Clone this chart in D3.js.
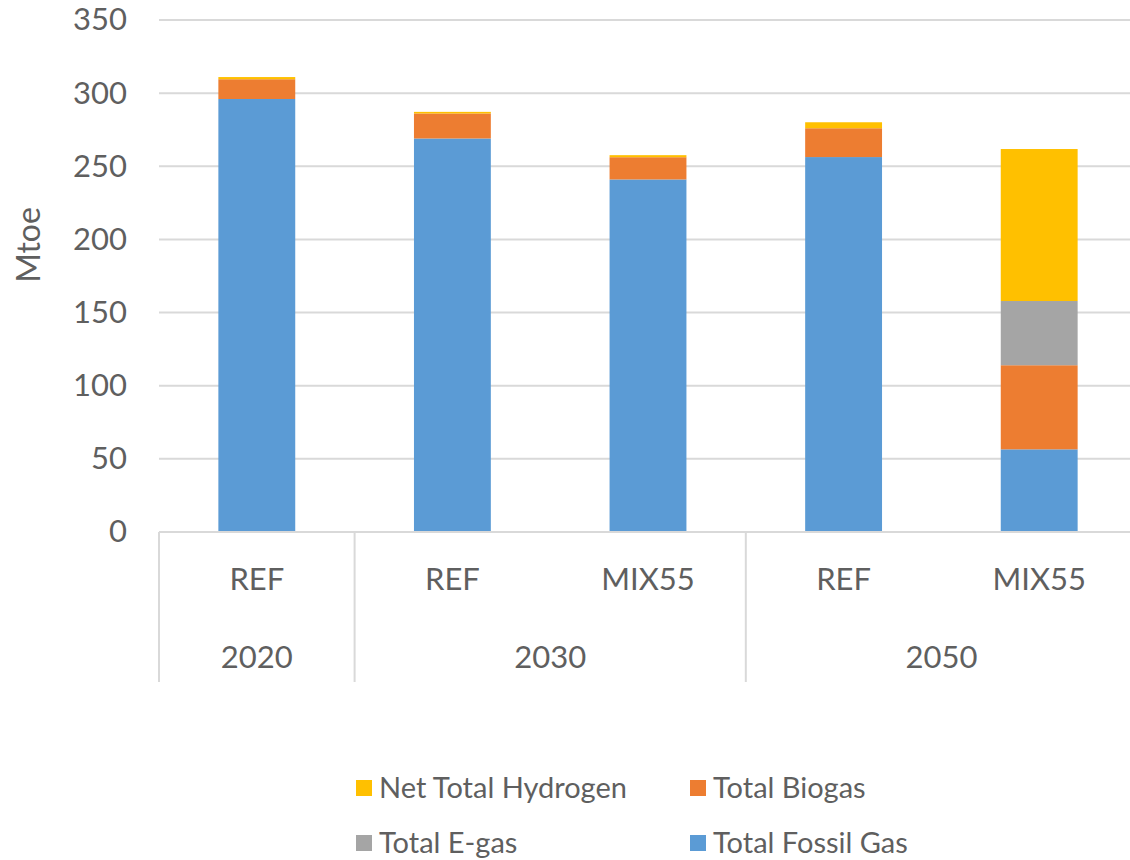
<!DOCTYPE html>
<html>
<head>
<meta charset="utf-8">
<script src="https://cdn.jsdelivr.net/npm/d3@7/dist/d3.min.js"></script>
<style>
  html, body { margin: 0; padding: 0; background: #fff; }
  svg { display: block; font-family: Lato, "Open Sans", sans-serif; }
</style>
</head>
<body>
<svg id="chart" width="1130" height="860"></svg>
<script>
// Scenario bars, grouped by year
const scenarios = ["REF", "REF", "MIX55", "REF", "MIX55"];
const years = ["2020", "2030", "2030", "2050", "2050"];
const yearGroups = [
  { year: "2020", span: 1 },
  { year: "2030", span: 2 },
  { year: "2050", span: 2 }
];

// Gas supply, Mtoe
const fossilGas = [296, 269, 241, 256.3, 56.5];
const biogas = [13.5, 17.1, 15.2, 19.7, 57.5];
const eGas = [0, 0, 0, 0, 43.9];
const hydrogen = [1.5, 1.1, 1.4, 4.1, 103.9];

const seriesNames = ["Total Fossil Gas", "Total Biogas", "Total E-gas", "Net Total Hydrogen"];
const seriesColors = ["#5B9BD5", "#ED7D31", "#A5A5A5", "#FFC000"];
const yTicks = [0, 50, 100, 150, 200, 250, 300, 350];

const rows = scenarios.map((s, i) => ({
  key: i,
  "Total Fossil Gas": fossilGas[i],
  "Total Biogas": biogas[i],
  "Total E-gas": eGas[i],
  "Net Total Hydrogen": hydrogen[i]
}));

const svg = d3.select("#chart");
const plotLeft = 159, plotRight = 1137, plotTop = 20, plotBottom = 532;
const textColor = "#5f5f5f";

const x = d3.scaleBand().domain(d3.range(scenarios.length)).range([plotLeft, plotRight]).paddingInner(0.607).paddingOuter(0.3035);
const step = x.step();
const y = d3.scaleLinear().domain([0, 350]).range([plotBottom, plotTop]);
const color = d3.scaleOrdinal().domain(seriesNames).range(seriesColors);

// Gridlines
svg.append("g")
  .selectAll("line")
  .data(yTicks.filter(d => d > 0))
  .join("line")
  .attr("x1", plotLeft).attr("x2", 1130)
  .attr("y1", d => y(d)).attr("y2", d => y(d))
  .attr("stroke", "#d9d9d9").attr("stroke-width", 2);

// Y axis labels
const yAxis = d3.axisLeft(y).tickValues(yTicks).tickSize(0).tickPadding(32);
const yg = svg.append("g").attr("transform", `translate(${plotLeft},0)`).call(yAxis);
yg.select(".domain").remove();
yg.selectAll("text")
  .attr("font-size", 31).attr("fill", textColor)
  .attr("font-family", "Lato, 'Open Sans', sans-serif");

svg.append("text")
  .attr("transform", `translate(40,245) rotate(-90)`)
  .attr("text-anchor", "middle")
  .attr("font-size", 32).attr("fill", textColor)
  .text("Mtoe");

// Stacked bars
const stack = d3.stack().keys(seriesNames);
const layers = stack(rows);
svg.append("g")
  .selectAll("g")
  .data(layers)
  .join("g")
  .attr("fill", d => color(d.key))
  .selectAll("rect")
  .data(d => d)
  .join("rect")
  .attr("x", (d, i) => x(i))
  .attr("width", x.bandwidth())
  .attr("y", d => y(d[1]))
  .attr("height", d => y(d[0]) - y(d[1]));

// Baseline
svg.append("line")
  .attr("x1", plotLeft).attr("x2", 1130)
  .attr("y1", y(0)).attr("y2", y(0))
  .attr("stroke", "#d9d9d9").attr("stroke-width", 2);

// Category axis: scenario row and year row
const xAxis = d3.axisBottom(x).tickFormat(i => scenarios[i]).tickSize(0).tickPadding(36);
const xg = svg.append("g").attr("transform", `translate(0,${plotBottom})`).call(xAxis);
xg.select(".domain").remove();
xg.selectAll("text")
  .attr("font-size", 31).attr("fill", textColor)
  .attr("font-family", "Lato, 'Open Sans', sans-serif");

// Year group separators and labels
let idx = 0;
const groupBounds = yearGroups.map(g => {
  const start = plotLeft + idx * step;
  idx += g.span;
  return { year: g.year, start, end: plotLeft + idx * step };
});
svg.append("g")
  .selectAll("line")
  .data(groupBounds)
  .join("line")
  .attr("x1", d => d.start).attr("x2", d => d.start)
  .attr("y1", plotBottom).attr("y2", 682)
  .attr("stroke", "#d9d9d9").attr("stroke-width", 2);

svg.append("g")
  .selectAll("text")
  .data(groupBounds)
  .join("text")
  .attr("x", d => (d.start + d.end) / 2)
  .attr("y", 668)
  .attr("text-anchor", "middle")
  .attr("font-size", 31).attr("fill", textColor)
  .text(d => d.year);

// Legend
const legendItems = [
  { name: "Net Total Hydrogen", col: 0, row: 0 },
  { name: "Total Biogas", col: 1, row: 0 },
  { name: "Total E-gas", col: 0, row: 1 },
  { name: "Total Fossil Gas", col: 1, row: 1 }
];
const lg = svg.append("g")
  .selectAll("g")
  .data(legendItems)
  .join("g")
  .attr("transform", d => `translate(${d.col ? 690 : 356},${d.row ? 843 : 788})`);
lg.append("rect")
  .attr("x", 0).attr("y", -8).attr("width", 16).attr("height", 16)
  .attr("fill", d => color(d.name));
lg.append("text")
  .attr("x", 23).attr("y", 10)
  .attr("font-size", 29).attr("fill", textColor)
  .text(d => d.name);
</script>
</body>
</html>
